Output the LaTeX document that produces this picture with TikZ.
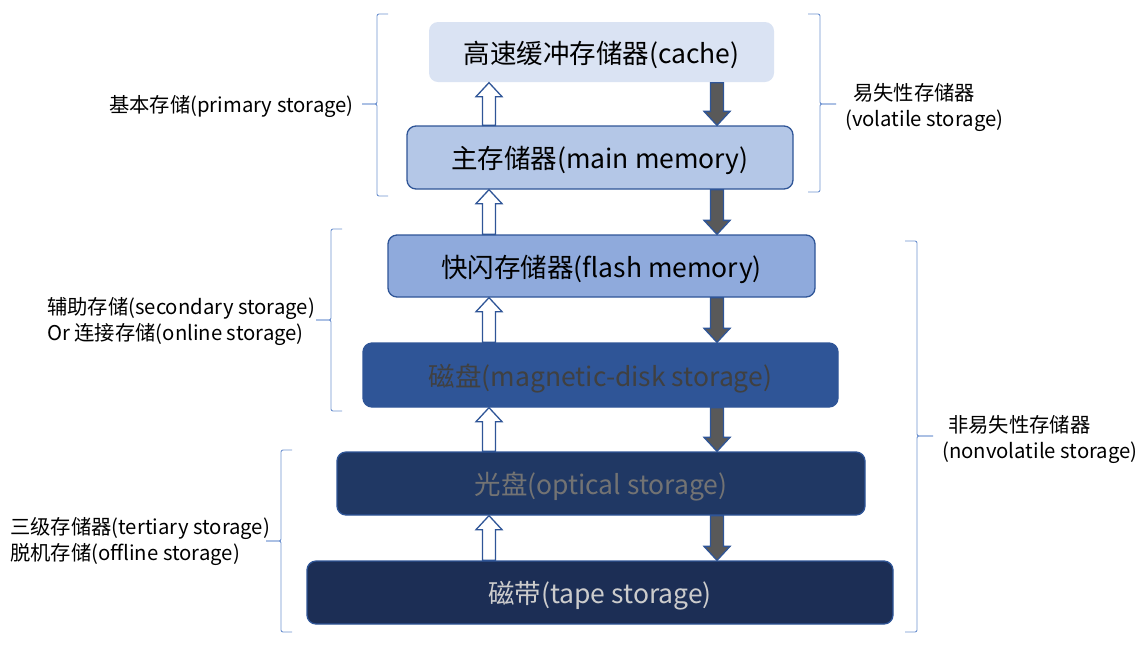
\documentclass[tikz,border=0pt]{standalone}
\usepackage{fontspec}
\setmainfont{Noto Sans CJK SC}
\usetikzlibrary{calc}
\definecolor{bordblue}{HTML}{2F5597}
\definecolor{braceblue}{HTML}{6F93D0}
\definecolor{cachefill}{HTML}{DAE3F3}
\definecolor{mainfill}{HTML}{B4C7E7}
\definecolor{flashfill}{HTML}{8FAADC}
\definecolor{diskfill}{HTML}{2F5597}
\definecolor{optfill}{HTML}{203864}
\definecolor{tapefill}{HTML}{1C2E55}
\definecolor{darrow}{HTML}{595959}
\tikzset{
  box/.style={rectangle, rounded corners=9pt, draw=bordblue, line width=1.3pt, inner sep=0pt,
    text depth=0pt, font=\fontsize{26.5}{30}\selectfont},
  lbl/.style={inner sep=0pt, font=\fontsize{20.3}{26}\selectfont, align=left},
  brc/.style={draw=braceblue, line width=0.9pt, rounded corners=2pt},
  uparr/.style={draw=bordblue, fill=white, line width=1.3pt, line join=miter},
  dnarr/.style={draw=bordblue, fill=darrow, line width=1.3pt, line join=miter},
}
\newcommand\upblock[2]{%
  \draw[uparr] ($(#1)+(-6.5,0)$) -- ($(#2)+(-6.5,14)$) -- ($(#2)+(-13,14)$) -- (#2)
    -- ($(#2)+(13,14)$) -- ($(#2)+(6.5,14)$) -- ($(#1)+(6.5,0)$) -- cycle;}
\newcommand\dnblock[2]{%
  \draw[dnarr] ($(#1)+(-6.5,0)$) -- ($(#2)+(-6.5,-14)$) -- ($(#2)+(-13,-14)$) -- (#2)
    -- ($(#2)+(13,-14)$) -- ($(#2)+(6.5,-14)$) -- ($(#1)+(6.5,0)$) -- cycle;}
\begin{document}
\begin{tikzpicture}[x=1pt,y=-1pt]
\useasboundingbox (0,0) rectangle (1145,649);
% boxes
\node[box, draw=none, fill=cachefill, minimum width=345pt, minimum height=60pt] (cache) at (601.5,52) {高速缓冲存储器(cache)};
\node[box, fill=mainfill, minimum width=386pt, minimum height=63pt] (main) at (600,157.5) {主存储器(main memory)};
\node[box, fill=flashfill, minimum width=427pt, minimum height=62pt] (flash) at (601.5,266) {快闪存储器(flash memory)};
\node[box, fill=diskfill, minimum width=475pt, minimum height=64pt, text=black!75] (disk) at (600.5,375) {磁盘(magnetic-disk storage)};
\node[box, fill=optfill, minimum width=528pt, minimum height=63pt, text=black!55] (opt) at (601,483.5) {光盘(optical storage)};
\node[box, fill=tapefill, minimum width=586pt, minimum height=63pt, text=black!20] (tape) at (600,592.5) {磁带(tape storage)};
% arrow columns
\coordinate (ux) at (489,0);
\coordinate (dx) at (717,0);
\foreach \lo/\hi in {main/cache, flash/main, disk/flash, opt/disk, tape/opt}{
  \upblock{ux |- \lo.north}{ux |- \hi.south}
  \dnblock{dx |- \hi.south}{dx |- \lo.north}
}
% left braces
\draw[brc] (388,14) -- (377,14) -- (377,104) -- (362,104);
\draw[brc] (362,104) -- (377,104) -- (377,196) -- (388,196);
\draw[brc] (342,229) -- (331,229) -- (331,320) -- (316,320);
\draw[brc] (316,320) -- (331,320) -- (331,411) -- (342,411);
\draw[brc] (292,450) -- (281,450) -- (281,541) -- (266,541);
\draw[brc] (266,541) -- (281,541) -- (281,632) -- (292,632);
% right braces
\draw[brc] (808,14) -- (820,14) -- (820,104) -- (836,104);
\draw[brc] (836,104) -- (820,104) -- (820,192) -- (808,192);
\draw[brc] (905,241) -- (917,241) -- (917,436) -- (933,436);
\draw[brc] (933,436) -- (917,436) -- (917,632) -- (905,632);
% labels
\node[lbl, anchor=east] (lprim) at (354,106) {基本存储(primary storage)};
\node[lbl, anchor=west] (lsec) at (47,321) {辅助存储(secondary storage)\\Or 连接存储(online storage)};
\node[lbl, anchor=west] (lter) at (10,541) {三级存储器(tertiary storage)\\脱机存储(offline storage)};
\node[lbl, anchor=west] (lvol) at (845,107) {\hspace{8pt}易失性存储器\\(volatile storage)};
\node[lbl, anchor=west] (lnon) at (942,439) {\hspace{6pt}非易失性存储器\\(nonvolatile storage)};
\end{tikzpicture}
\end{document}
